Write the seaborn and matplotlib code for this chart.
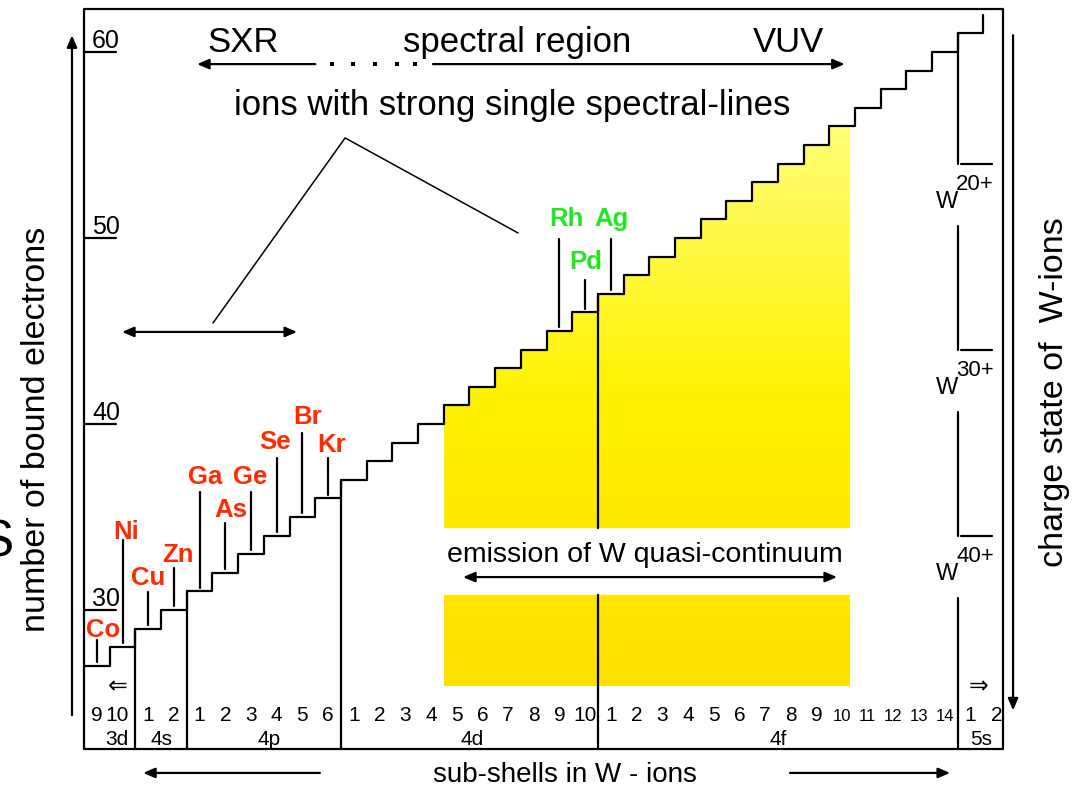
import numpy as np
import pandas as pd
import matplotlib
matplotlib.use("Agg")
import matplotlib.pyplot as plt
from matplotlib.path import Path
from matplotlib.patches import PathPatch
from matplotlib.colors import LinearSegmentedColormap
import seaborn as sns

# ---------------------------------------------------------------- data
shell_names = ["3d", "4s", "4p", "4d", "4f", "5s"]
shell_occupancy = [
    [9, 10],
    [1, 2],
    [1, 2, 3, 4, 5, 6],
    [1, 2, 3, 4, 5, 6, 7, 8, 9, 10],
    [1, 2, 3, 4, 5, 6, 7, 8, 9, 10, 11, 12, 13, 14],
    [1, 2],
]
# number of bound electrons of the W ion for each sub-shell step
bound_electrons = [27, 28, 29, 30, 31, 32, 33, 34, 35, 36,
                   37, 38, 39, 40, 41, 42, 43, 44, 45, 46,
                   47, 48, 49, 50, 51, 52, 53, 54, 55, 56,
                   57, 58, 59, 60, 61, 62]

# iso-electronic sequences with strong single lines (step index on the staircase)
red_ions = ["Co", "Ni", "Cu", "Zn", "Ga", "As", "Ge", "Se", "Br", "Kr"]
red_steps = [0, 1, 2, 3, 4, 5, 6, 7, 8, 9]
green_ions = ["Rh", "Pd", "Ag"]
green_steps = [18, 19, 20]

W_nuclear_charge = 74
charge_states = [20, 30, 40]
electron_ticks = [60, 50, 40, 30]

# ---------------------------------------------------------------- style
sns.set_style("white")
plt.rcParams["font.family"] = ["Liberation Sans", "DejaVu Sans"]
plt.rcParams["text.color"] = "black"

RED = "#FF2A00"
GREEN = "#22E622"
LW = 1.6

fig = plt.figure(figsize=(10.79, 7.89), dpi=100)
ax = fig.add_axes([0, 0, 1, 1])
XMIN, XMAX = -3.268, 38.716
YMIN, YMAX = 20.376, 62.796

# ---------------------------------------------------------------- staircase
n_cols = sum(len(s) for s in shell_occupancy)
steps = pd.DataFrame({"step": np.arange(n_cols), "electrons": bound_electrons})

# yellow quasi-continuum band under the staircase
x0, x1 = 14.0, 29.8
band_split_hi, band_split_lo, band_bottom = 34.41, 30.8, 25.9
verts = [(x0, band_split_hi)]
for s, e in zip(steps["step"], steps["electrons"]):
    if s < x0 or s >= x1:
        continue
    verts.append((s, e))
    verts.append((min(s + 1, x1), e))
verts.append((x1, band_split_hi))
verts.append((x0, band_split_hi))
upper = Path(verts, closed=True)
lower = Path([(x0, band_bottom), (x1, band_bottom), (x1, band_split_lo),
              (x0, band_split_lo), (x0, band_bottom)], closed=True)
cmap = LinearSegmentedColormap.from_list("band", ["#FFE000", "#FFF200", "#FFFF80"])
grad = np.linspace(0, 1, 256).reshape(-1, 1)
for p in (upper, lower):
    im = ax.imshow(grad, cmap=cmap, origin="lower", aspect="auto",
                   extent=[x0, x1, band_bottom, 57.0], zorder=1)
    patch = PathPatch(p, transform=ax.transData, facecolor="none", edgecolor="none")
    ax.add_patch(patch)
    im.set_clip_path(patch)

sns.lineplot(data=steps, x="step", y="electrons", drawstyle="steps-post",
             color="black", lw=LW, ax=ax, zorder=4)

# ---------------------------------------------------------------- frame
FR_L, FR_R, FR_B, FR_T = 0.0, 35.76, 22.5, 62.31
ax.plot([FR_L, FR_L, FR_R, FR_R, FR_L], [FR_B, FR_T, FR_T, FR_B, FR_B],
        color="black", lw=LW, zorder=5)

# sub-shell boundaries
bounds = np.cumsum([0] + [len(s) for s in shell_occupancy])
for b in bounds[1:-2]:
    top = bound_electrons[b]
    if b == 20:
        ax.plot([b, b], [FR_B, band_split_lo], color="black", lw=LW, zorder=5)
        ax.plot([b, b], [band_split_hi, top], color="black", lw=LW, zorder=5)
    else:
        ax.plot([b, b], [FR_B, top], color="black", lw=LW, zorder=5)

# charge-state scale on the 4f / 5s boundary
b5 = bounds[-2]
seg_top = bound_electrons[b5]
for q in charge_states:
    n = W_nuclear_charge - q
    ax.plot([b5, b5], [seg_top, n], color="black", lw=LW, zorder=5)
    ax.plot([b5 + 0.12, b5 + 1.33], [n, n], color="black", lw=LW, zorder=5)
    ax.text(b5 - 0.42, n - 2.05, "W", fontsize=17, ha="center", va="center")
    ax.text(b5 + 0.67, n - 1.1, f"{q}+", fontsize=16, ha="center", va="center")
    seg_top = n - 3.35
ax.plot([b5, b5], [seg_top, FR_B], color="black", lw=LW, zorder=5)

# ---------------------------------------------------------------- axis scales
for t in electron_ticks:
    ax.plot([0, 1.25], [t, t], color="black", lw=LW)
    ax.text(0.31, t + 0.2, str(t), fontsize=18, ha="left", va="baseline")

col = 0
name_offsets = [0.28, 0.03, 0.2, 0.1, 0.0, -0.1]
for name, occ, off in zip(shell_names, shell_occupancy, name_offsets):
    for k, v in enumerate(occ):
        xc = col + k + 0.5
        small = v >= 10 and name == "4f"
        if name == "3d" and v == 10:
            xc -= 0.2
        ax.text(xc, 24.05, str(v), fontsize=12 if small else 15,
                ha="center", va="baseline")
    ax.text(col + len(occ) / 2 + off, 22.75, name, fontsize=15,
            ha="center", va="baseline")
    col += len(occ)

ax.text(1.32, 25.9, "\u21d0", fontsize=17, ha="center", va="center",
        family="DejaVu Sans")
ax.text(34.8, 25.9, "\u21d2", fontsize=17, ha="center", va="center",
        family="DejaVu Sans")

# ---------------------------------------------------------------- ion labels
red_layout = {
    "Co": (0.74, 28.92, 28.39), "Ni": (1.63, 34.19, 33.76),
    "Cu": (2.49, 31.72, 30.97), "Zn": (3.66, 32.96, 32.26),
    "Ga": (4.71, 37.15, 36.34), "As": (5.72, 35.38, 34.68),
    "Ge": (6.46, 37.15, 36.34), "Se": (7.43, 39.03, 38.17),
    "Br": (8.68, 40.38, 39.52), "Kr": (9.65, 38.87, 38.17),
}
green_layout = {
    "Rh": (18.79, 51.02, 49.95), "Pd": (19.53, 48.71, 47.74),
    "Ag": (20.51, 51.02, 49.95),
}
for ions, stp, layout, color in ((red_ions, red_steps, red_layout, RED),
                                 (green_ions, green_steps, green_layout, GREEN)):
    for ion, s in zip(ions, stp):
        tx, ty, ltop = layout[ion]
        level = bound_electrons[s]
        ax.plot([s + 0.5, s + 0.5], [level + 0.2, ltop], color="black", lw=LW, zorder=5)
        ax.text(tx, ty, ion, color=color, fontsize=18.5, fontweight="bold",
                ha="center", va="center", zorder=6)

# ---------------------------------------------------------------- annotations
def arrow(xa, ya, xb, yb, both=False):
    style = "<|-|>" if both else "-|>"
    ax.annotate("", xy=(xb, yb), xytext=(xa, ya),
                arrowprops=dict(arrowstyle=f"{style},head_length=0.7,head_width=0.3",
                                color="black", lw=LW, shrinkA=0, shrinkB=0),
                zorder=6)

# spectral region
ax.text(6.19, 60.0, "SXR", fontsize=25, ha="center", va="baseline")
ax.text(16.87, 60.0, "spectral region", fontsize=25, ha="center", va="baseline")
ax.text(27.43, 60.0, "VUV", fontsize=25, ha="center", va="baseline")
arrow(9.0, 59.35, 4.4, 59.35)
arrow(13.58, 59.35, 29.6, 59.35)
ax.plot([9.65, 10.47, 11.32, 12.18, 12.88], [59.35] * 5, "s", ms=2.2,
        mew=0, color="black")

# strong single lines
ax.text(16.65, 57.1, "ions with strong single spectral-lines", fontsize=25,
        ha="center", va="center")
ax.plot([5.02, 10.16, 16.89], [45.43, 55.38, 50.27], color="black", lw=1.1)
arrow(1.48, 44.95, 8.29, 44.95, both=True)

# quasi-continuum
ax.text(21.83, 32.58, "emission of W quasi-continuum", fontsize=20.5,
        ha="center", va="baseline")
arrow(14.75, 31.77, 29.3, 31.77, both=True)

# bottom axis title with arrows
ax.text(18.72, 20.75, "sub-shells in W - ions", fontsize=20,
        ha="center", va="baseline")
arrow(9.18, 21.24, 2.30, 21.24)
arrow(27.47, 21.24, 33.7, 21.24)

# side scales
arrow(-0.467, 24.35, -0.467, 60.9)
arrow(36.15, 60.9, 36.15, 24.6)
ax.text(-1.85, 39.7, "number of bound electrons", fontsize=24.5, rotation=90,
        ha="center", va="center")
ax.text(37.75, 41.72, "charge state of  W-ions", fontsize=24.5, rotation=90,
        ha="center", va="center")

fig.text(-0.003, 1 - 543 / 789, "S", fontsize=37, ha="center", va="center")

ax.set_xlim(XMIN, XMAX)
ax.set_ylim(YMIN, YMAX)
ax.axis("off")
fig.savefig("out.png", dpi=100)
